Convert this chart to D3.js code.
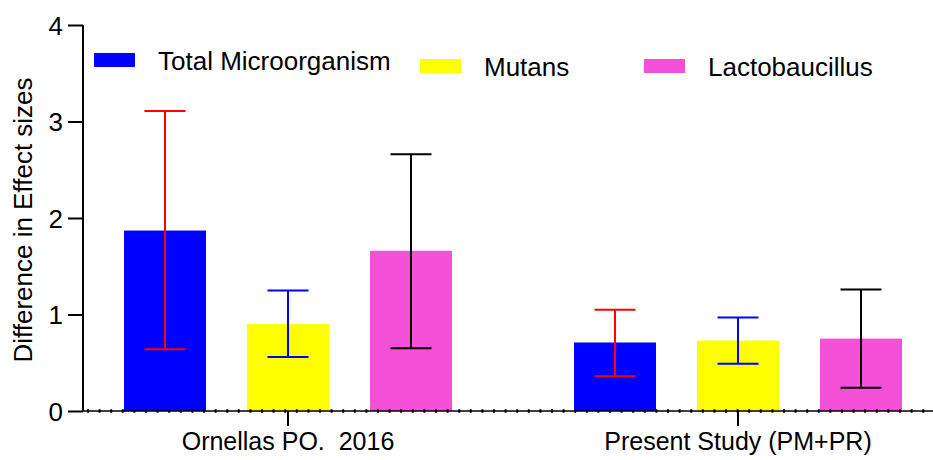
<!DOCTYPE html>
<html>
<head>
<meta charset="utf-8">
<script src="https://cdn.jsdelivr.net/npm/d3@7"></script>
<style>
	body { margin: 0; background: #fff; }
	text { font-family: Arial, "Liberation Sans", sans-serif; fill: #000; white-space: pre; }
</style>
</head>
<body>
<svg id="chart"></svg>
<script>
// data
let groups = ['Ornellas PO.  2016', 'Present Study (PM+PR)'];
let series = ['Total Microorganism', 'Mutans', 'Lactobaucillus'];
let barColors = ['#0000ff', '#ffff00', '#f550d8'];
let errColors = ['#ff0000', '#0000ff', '#000000'];
let means = [[1.87, 0.90, 1.66], [0.71, 0.73, 0.75]];
let lows = [[0.64, 0.56, 0.65], [0.36, 0.49, 0.24]];
let highs = [[3.11, 1.25, 2.66], [1.05, 0.97, 1.26]];
let yTicks = [0, 1, 2, 3, 4];

let w = 933, h = 460;
let leftX = 83, zeroY = 411, topY = 25;

let chart = d3.select('#chart')
	.attr('width', w)
	.attr('height', h);

let yScale = d3.scaleLinear()
	.domain([0, 4])
	.range([zeroY, topY]);

// group centres at 288 and 738
let xScale = d3.scaleBand()
	.domain(groups)
	.range([63, 963]);

let inner = d3.scaleBand()
	.domain(series)
	.range([-184.5, 184.5])
	.paddingInner(1 / 3)
	.paddingOuter(1 / 6);

let rows = [];
groups.forEach((g, gi) => {
	series.forEach((s, si) => {
		rows.push({ g: g, s: s, si: si, v: means[gi][si], lo: lows[gi][si], hi: highs[gi][si] });
	});
});

let cx = (d) => xScale(d.g) + xScale.bandwidth() / 2;

// bars
chart.selectAll('rect.bar')
	.data(rows)
	.enter()
	.append('rect')
	.attr('class', 'bar')
	.attr('x', (d) => cx(d) + inner(d.s))
	.attr('y', (d) => yScale(d.v))
	.attr('width', inner.bandwidth())
	.attr('height', (d) => yScale(0) - yScale(d.v))
	.attr('fill', (d) => barColors[d.si]);

// error bars
let capW = 41;
let eb = chart.selectAll('g.err')
	.data(rows)
	.enter()
	.append('g')
	.attr('class', 'err')
	.attr('stroke', (d) => errColors[d.si])
	.attr('stroke-width', 2);

eb.append('line')
	.attr('x1', (d) => cx(d) + inner(d.s) + inner.bandwidth() / 2)
	.attr('x2', (d) => cx(d) + inner(d.s) + inner.bandwidth() / 2)
	.attr('y1', (d) => yScale(d.lo))
	.attr('y2', (d) => yScale(d.hi));

['lo', 'hi'].forEach((k) => {
	eb.append('line')
		.attr('x1', (d) => cx(d) + inner(d.s) + inner.bandwidth() / 2 - capW / 2)
		.attr('x2', (d) => cx(d) + inner(d.s) + inner.bandwidth() / 2 + capW / 2)
		.attr('y1', (d) => yScale(d[k]))
		.attr('y2', (d) => yScale(d[k]));
});

// y axis
let yAxis = d3.axisLeft(yScale)
	.tickValues(yTicks)
	.tickFormat(d3.format('d'))
	.tickSize(15)
	.tickPadding(5);

let yAxisGroup = chart.append('g')
	.attr('transform', `translate(${leftX},0)`)
	.call(yAxis);
yAxisGroup.select('.domain').attr('stroke', '#000').attr('stroke-width', 2).attr('d', `M0,${topY}V${zeroY}`);
yAxisGroup.selectAll('.tick line').attr('stroke', '#000').attr('stroke-width', 2);
yAxisGroup.selectAll('.tick text').style('font-size', '26px').attr('dy', '0.36em');

// x axis: dotted baseline
let xAxis = d3.axisBottom(xScale)
	.tickSize(15)
	.tickPadding(6);

let xAxisGroup = chart.append('g')
	.attr('transform', `translate(0,${zeroY})`)
	.call(xAxis);
xAxisGroup.select('.domain').attr('stroke', '#000').attr('stroke-width', 1.5).attr('d', `M${leftX},0H${w}`);
xAxisGroup.selectAll('.tick line').attr('stroke', '#000').attr('stroke-width', 2);
xAxisGroup.selectAll('.tick text').style('font-size', '25px');
xAxisGroup.append('line')
	.attr('x1', leftX + 4)
	.attr('x2', w)
	.attr('stroke', '#000')
	.attr('stroke-width', 3.5)
	.attr('stroke-dasharray', '2,9.6');

// y title
chart.append('text')
	.attr('transform', 'rotate(-90)')
	.attr('x', -220)
	.attr('y', 32)
	.style('text-anchor', 'middle')
	.style('font-size', '26px')
	.text('Difference in Effect sizes');

// legend
let legendPos = [[94, 60, 158], [420, 66, 484], [644, 66, 708]];
let legend = chart.selectAll('g.legend')
	.data(series)
	.enter()
	.append('g')
	.attr('class', 'legend')
	.attr('transform', (d, i) => `translate(${legendPos[i][0]},${legendPos[i][1]})`);

legend.append('rect')
	.attr('x', 0)
	.attr('y', -7)
	.attr('width', 41)
	.attr('height', 14)
	.attr('fill', (d, i) => barColors[i]);

legend.append('text')
	.attr('x', (d, i) => legendPos[i][2] - legendPos[i][0])
	.attr('y', 10)
	.style('font-size', '26px')
	.text((d) => d);
</script>
</body>
</html>
